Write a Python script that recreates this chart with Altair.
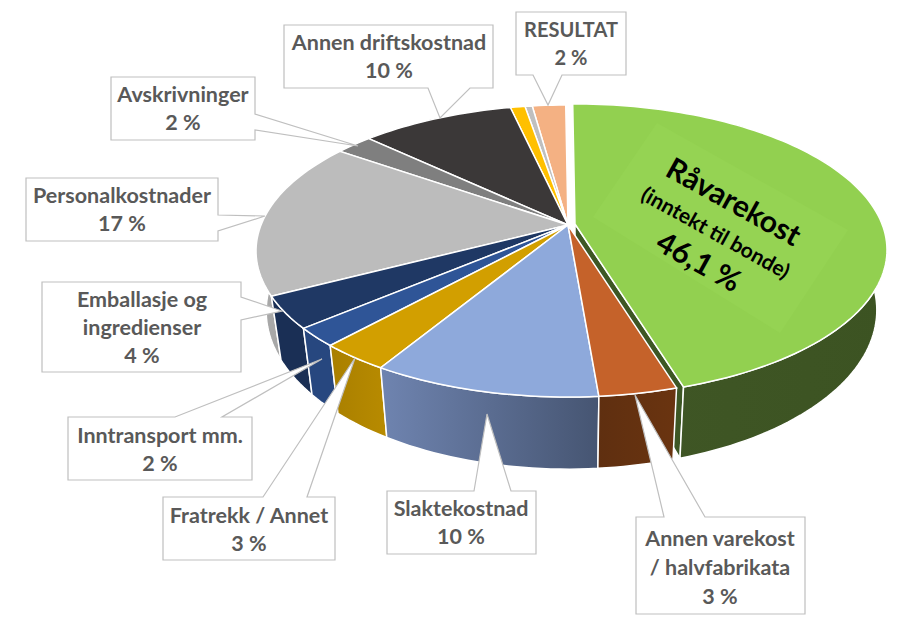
import math
import altair as alt
import pandas as pd

# ---- slice data (clockwise from 12 o'clock) ----
names = ["Råvarekost", "Annen varekost", "Slaktekostnad", "Fratrekk", "Inntransport",
         "Emballasje", "Personalkostnader", "Avskrivninger", "Annen driftskostnad",
         "Gul", "Grå", "Resultat"]
values = [45.4, 3.42, 9.97, 3.09, 2.06, 3.55, 17.38, 2.28, 9.45, 0.9, 0.45, 2.05]
top_colors = ["#92d050", "#c5622a", "#8ea9db", "#d29f00", "#2f5597", "#1f3864",
              "#bcbcbc", "#7f7f7f", "#3b3838", "#ffc000", "#bfbfbf", "#f4b183"]
wall_colors = ["#3b5623", "#5f2f10", "#5a6d93", "#ad8300", "#27477f", "#1a2f55",
               "#a8a8a8", "#6a6a6a", "#2b2929", "#b08500", "#909090", "#c08a60"]
wall_grads = {0: ("#405726", "#3c5322"), 1: ("#5f2f10", "#6a3410"),
              2: ("#6f84b0", "#465572"), 3: ("#a97f00", "#b88b00")}

# ---- callouts: label lines, text centre, box, pointer ----
callouts = [
    (["RESULTAT", "2 %"], 571, [31, 59], (516, 12, 626, 75), "b", [(533, 548, 105), (562,)], 20),
    (["Annen driftskostnad", "10 %"], 389, [44, 72], (284, 25, 493, 88), "b", [(428, 440, 118), (470,)], 21.5),
    (["Avskrivninger", "2 %"], 183, [96, 124], (111, 77, 255, 140), "r", [(114, 358, 146), (130,)], 21.5),
    (["Personalkostnader", "17 %"], 122, [197, 225], (26, 178, 218, 241), "r", [(215, 265, 216), (231,)], 21.5),
    (["Emballasje og", "ingredienser", "4 %"], 142, [301, 329, 357], (42, 282, 241, 372), "r", [(297, 282, 311), (320,)], 21.5),
    (["Inntransport mm.", "2 %"], 160, [437, 465], (68, 417, 252, 480), "t", [(175, 322, 359), (222,)], 21.5),
    (["Fratrekk / Annet", "3 %"], 249, [517, 545], (163, 497, 335, 560), "t", [(263, 355, 358), (307,)], 21.5),
    (["Slaktekostnad", "10 %"], 461, [510, 538], (387, 491, 536, 554), "t", [(474, 487, 414), (511,)], 21.5),
    (["Annen varekost", "/ halvfabrikata", "3 %"], 720, [540, 569, 598], (636, 517, 805, 614), "t", [(664, 635, 395), (705,)], 21.5),
]

main_lines = [("Råvarekost", 733, 203, 30), ("(inntekt til bonde)", 715, 234, 21), ("46,1 %", 698, 263, 30)]
main_angle = 29
glow_corners = [(657, 123), (848, 230), (780, 333), (593, 217)]

# ---- projection of the tilted disc ----
CX, CY, A, B, K = 568, 225, 307, 141.4, 0.178
BCY, BA, BB = 283, 297, 153
START = -0.5
EXPLODE = (7, -1)


def top(a, off=(0, 0)):
    r = math.radians(a)
    s = 1 / (1 + K * math.cos(r))
    return (CX + off[0] + A * math.sin(r) * s, CY + off[1] - B * math.cos(r) * s)


def bottom(a, off=(0, 0)):
    r = math.radians(a)
    s = 1 / (1 + K * math.cos(r))
    return (CX + off[0] + BA * math.sin(r) * s, BCY + off[1] - BB * math.cos(r) * s)


def arc(fn, a0, a1, off):
    n = max(2, int(abs(a1 - a0) / 1.5) + 1)
    return [fn(a0 + (a1 - a0) * i / n, off) for i in range(n + 1)]


X = alt.X("x:Q", scale=alt.Scale(domain=[8, 893], nice=False, zero=False), axis=None)
Y = alt.Y("y:Q", scale=alt.Scale(domain=[618, 8], nice=False, zero=False), axis=None)


def poly(points, fill, stroke="white", sw=1.5):
    df = pd.DataFrame([{"x": p[0], "y": p[1], "i": i} for i, p in enumerate(points)])
    kw = dict(fill=fill, interpolate="linear-closed")
    if stroke:
        kw.update(stroke=stroke, strokeWidth=sw)
    else:
        kw.update(strokeWidth=0)
    return alt.Chart(df).mark_line(**kw).encode(x=X, y=Y, order="i:Q")


def grad(c0, c1):
    return alt.Gradient(gradient="linear", x1=0, y1=0, x2=1, y2=0,
                        stops=[alt.GradientStop(color=c0, offset=0), alt.GradientStop(color=c1, offset=1)])


total = sum(values)
edges = [START]
for v in values:
    edges.append(edges[-1] + v / total * 360)

layers = []
# exploded slice: cut face, then outer walls
ex_end = edges[1]
layers.append(poly([top(ex_end, EXPLODE), bottom(ex_end, EXPLODE),
                    (CX + EXPLODE[0], BCY + EXPLODE[1]), (CX + EXPLODE[0], CY + EXPLODE[1])], "#3d5724"))
order = [6, 7, 8, 9, 10, 11, 5, 4, 3, 2, 1, 0]
for i in order:
    off = EXPLODE if i == 0 else (0, 0)
    pts = arc(top, edges[i], edges[i + 1], off) + arc(bottom, edges[i + 1], edges[i], off)
    fill = grad(*wall_grads[i]) if i in wall_grads else wall_colors[i]
    layers.append(poly(pts, fill))
# top faces
for i in range(len(values) - 1, -1, -1):
    off = EXPLODE if i == 0 else (0, 0)
    pts = [(CX + off[0], CY + off[1])] + arc(top, edges[i], edges[i + 1], off)
    layers.append(poly(pts, top_colors[i]))

layers.append(poly(glow_corners, "#95d353", stroke=None))

# callouts
for lines, tx, tys, (x0, y0, x1, y1), side, (p, q), fs in callouts:
    a, tipx, tipy = p
    b = q[0]
    if side == "b":
        pts = [(x0, y0), (x1, y0), (x1, y1), (b, y1), (tipx, tipy), (a, y1), (x0, y1)]
    elif side == "t":
        pts = [(x0, y0), (a, y0), (tipx, tipy), (b, y0), (x1, y0), (x1, y1), (x0, y1)]
    else:
        pts = [(x0, y0), (x1, y0), (x1, a), (tipx, tipy), (x1, b), (x1, y1), (x0, y1)]
    layers.append(poly(pts, "white", stroke="#bfbfbf", sw=1.2))
    df = pd.DataFrame({"x": [tx] * len(lines), "y": tys, "t": lines})
    layers.append(alt.Chart(df).mark_text(font="Lato", fontWeight="bold", fontSize=fs, color="#595959",
                                          align="center", baseline="middle").encode(x=X, y=Y, text="t:N"))

for t, x, y, size in main_lines:
    df = pd.DataFrame({"x": [x], "y": [y], "t": [t]})
    layers.append(alt.Chart(df).mark_text(font="Lato", fontWeight="bold", fontSize=size, color="#000000",
                                          angle=main_angle, align="center", baseline="middle")
                  .encode(x=X, y=Y, text="t:N"))

chart = alt.layer(*layers).properties(
    width=885, height=610, padding=0, autosize=alt.AutoSizeParams(type="none"),
    background="white"
).configure_view(stroke=None)

chart.save("out.html", embed_options={"renderer": "svg", "actions": False})
